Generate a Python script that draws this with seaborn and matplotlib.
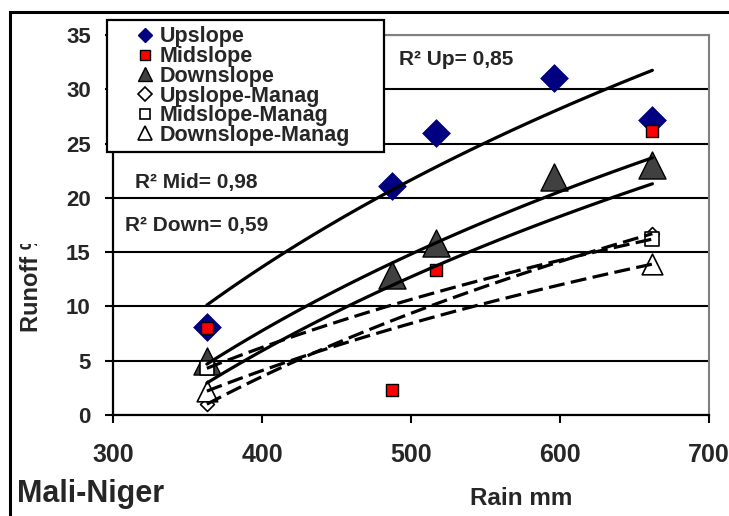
import numpy as np
import matplotlib
matplotlib.use("Agg")
import matplotlib.pyplot as plt
import seaborn as sns
from matplotlib.lines import Line2D
from matplotlib.patches import Rectangle
from matplotlib.transforms import Bbox, TransformedBbox

# ---------------- data ----------------
rain = [363, 487, 517, 596, 662]
upslope = [8.1, 21.1, 26.0, 31.0, 27.2]
rain_mid = [363, 487, 517, 662]
midslope = [8.0, 2.3, 13.4, 26.2]
downslope = [5.0, 12.9, 15.8, 21.9, 23.0]
rain_manag = [363, 662]
upslope_manag = [1.0, 16.7]
midslope_manag = [4.3, 16.2]
downslope_manag = [2.2, 13.9]

legend_labels = ["Upslope", "Midslope", "Downslope",
                 "Upslope-Manag", "Midslope-Manag", "Downslope-Manag"]
r2_labels = ["R\u00b2 Up= 0,85", "R\u00b2 Mid= 0,98", "R\u00b2 Down= 0,59"]
xticks = [300, 400, 500, 600, 700]
yticks = [0, 5, 10, 15, 20, 25, 30, 35]

# ---------------- style ----------------
sns.set_style("white")
plt.rcParams["font.family"] = ["Liberation Sans", "DejaVu Sans"]
plt.rcParams["font.weight"] = "bold"

W, H = 729, 516
fig = plt.figure(figsize=(W / 100, H / 100), dpi=100)
ax = fig.add_axes([113 / W, 1 - 415 / H, (709 - 113) / W, (415 - 35) / H])

NAVY = "#000080"
RED = "#FF0000"
DGRAY = "#404040"

# markers
sns.scatterplot(x=rain, y=upslope, marker="D", s=200, color=NAVY,
                edgecolor=NAVY, linewidth=0.5, ax=ax, zorder=3, legend=False)
sns.scatterplot(x=rain_mid, y=midslope, marker="s", s=85, color=RED,
                edgecolor="black", linewidth=1.0, ax=ax, zorder=3, legend=False)
sns.scatterplot(x=rain, y=downslope, marker="^", s=380, color=DGRAY,
                edgecolor="black", linewidth=1.0, ax=ax, zorder=3, legend=False)
sns.scatterplot(x=rain_manag, y=upslope_manag, marker="D", s=50, color="white",
                edgecolor="black", linewidth=1.2, ax=ax, zorder=3, legend=False)
sns.scatterplot(x=rain_manag, y=midslope_manag, marker="s", s=115, color="white",
                edgecolor="black", linewidth=1.2, ax=ax, zorder=3, legend=False)
sns.scatterplot(x=rain_manag, y=downslope_manag, marker="^", s=220, color="white",
                edgecolor="black", linewidth=1.2, ax=ax, zorder=3, legend=False)


# logarithmic trend lines (fitted from the data)
def log_trend(xv, yv, style):
    xv = np.asarray(xv, float)
    a, b = np.polyfit(np.log(xv), np.asarray(yv, float), 1)
    xs = np.linspace(xv.min(), xv.max(), 120)
    ax.plot(xs, a * np.log(xs) + b, color="black", lw=2.3, zorder=4, **style)


solid = dict(ls="-")
dashed = dict(ls=(0, (5, 2)))
log_trend(rain, upslope, solid)
log_trend(rain_mid, midslope, solid)
log_trend(rain, downslope, solid)
log_trend(rain_manag, upslope_manag, dashed)
log_trend(rain_manag, midslope_manag, dashed)
log_trend(rain_manag, downslope_manag, dashed)

# axes
ax.set_xlim(300, 700)
ax.set_ylim(0, 35)
ax.set_xticks(xticks)
ax.set_yticks(yticks)
ax.set_xlabel("")
ax.set_ylabel("")
ax.set_axisbelow(True)
ax.yaxis.grid(True, color="black", lw=1.5)
ax.xaxis.grid(False)
for side in ["left", "bottom"]:
    ax.spines[side].set_color("black")
    ax.spines[side].set_linewidth(1.6)
for side in ["top", "right"]:
    ax.spines[side].set_color("#808080")
    ax.spines[side].set_linewidth(1.5)
ax.tick_params(axis="x", direction="out", length=6, width=1.5, color="black",
               labelsize=18, pad=14, bottom=True)
ax.tick_params(axis="y", direction="out", length=6, width=1.5, color="black",
               labelsize=16, pad=10, left=True)
for lab in ax.get_xticklabels() + ax.get_yticklabels():
    lab.set_fontweight("bold")

# R² annotations
ax.text(492, 32.7, r2_labels[0], fontsize=15, fontweight="bold", va="center", ha="left")
ax.text(315, 21.4, r2_labels[1], fontsize=15, fontweight="bold", va="center", ha="left")
ax.text(308, 17.5, r2_labels[2], fontsize=15, fontweight="bold", va="center", ha="left")

# legend
handles = [
    Line2D([], [], ls="none", marker="D", ms=7.1, color=NAVY, mec=NAVY),
    Line2D([], [], ls="none", marker="s", ms=7.2, color=RED, mec="black", mew=1.0),
    Line2D([], [], ls="none", marker="^", ms=10.5, color=DGRAY, mec="black", mew=1.0),
    Line2D([], [], ls="none", marker="D", ms=6.8, color="white", mec="black", mew=1.2),
    Line2D([], [], ls="none", marker="s", ms=7.2, color="white", mec="black", mew=1.2),
    Line2D([], [], ls="none", marker="^", ms=10.5, color="white", mec="black", mew=1.2),
]
leg = ax.legend(handles, legend_labels, loc="upper left", mode="expand",
                bbox_to_anchor=(-0.01, 0.0, (384 - 107) / 596, 1.0395),
                borderaxespad=0,
                prop={"weight": "bold", "size": 15.5}, frameon=True,
                fancybox=False, framealpha=1, edgecolor="black",
                labelspacing=-0.06, handlelength=2.9, handletextpad=-0.75,
                borderpad=0.3)
leg.get_frame().set_linewidth(1.6)
leg.set_zorder(6)

# axis titles
fig.text(521 / W, 1 - 505 / H, "Rain mm", fontsize=17.5, fontweight="bold",
         ha="center", va="baseline")
fig.text(17 / W, 1 - 502 / H, "Mali-Niger", fontsize=22, fontweight="bold",
         ha="left", va="baseline")
yl = fig.text(32 / W, 1 - 332 / H, "Runoff %", fontsize=17, fontweight="bold",
              rotation=90, ha="center", va="bottom")
yl.set_clip_on(True)
yl.set_clip_box(TransformedBbox(Bbox([[0, 0], [0.2, 1 - 244 / H]]), fig.transFigure))

# outer frame of the figure (left and top edges visible)
fig.add_artist(Rectangle((10 / W, -0.2), 1.2, 1.2 - 12 / H, transform=fig.transFigure,
                         fill=False, edgecolor="black", lw=2.2))

fig.savefig("out.png", dpi=100)
